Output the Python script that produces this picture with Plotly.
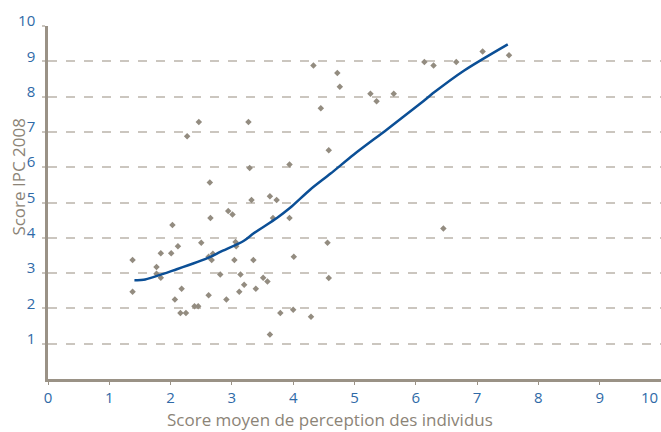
import plotly.graph_objects as go

# Scatter data (Score moyen de perception, Score IPC 2008)
pts_x = [1.38, 1.38, 1.77, 1.77, 1.84, 1.84, 2.01, 2.03, 2.12, 2.07, 2.18, 2.16, 2.25, 2.27, 2.46,
         2.39, 2.45, 2.50, 2.64, 2.65, 2.62, 2.62, 2.69, 2.67, 2.81, 2.91, 2.94, 3.01, 3.06, 3.07,
         3.04, 3.14, 3.12, 3.20, 3.27, 3.29, 3.32, 3.35, 3.39, 3.51, 3.58, 3.62, 3.73, 3.67, 3.62,
         3.79, 3.94, 3.94, 4.00, 4.01, 4.29, 4.45, 4.58, 4.56, 4.58, 4.33, 4.72, 4.76, 5.26, 5.36,
         5.64, 6.14, 6.29, 6.66, 7.09, 7.52, 6.45]
pts_y = [3.37, 2.47, 3.17, 2.98, 2.87, 3.56, 3.56, 4.36, 3.76, 2.25, 2.56, 1.87, 1.87, 6.88, 7.28,
         2.06, 2.06, 3.86, 5.57, 4.56, 2.37, 3.46, 3.55, 3.37, 2.96, 2.25, 4.76, 4.66, 3.88, 3.76,
         3.37, 2.96, 2.47, 2.67, 7.28, 5.98, 5.07, 3.37, 2.56, 2.87, 2.76, 5.18, 5.07, 4.56, 1.26,
         1.87, 6.08, 4.56, 1.96, 3.46, 1.76, 7.67, 6.48, 3.86, 2.86, 8.88, 8.67, 8.28, 8.08, 7.87,
         8.08, 8.98, 8.88, 8.98, 9.28, 9.17, 4.26]

# Smoothed (loess-like) curve
fit_x = [1.41, 1.56, 2.10, 2.65, 2.81, 3.19, 3.35, 3.74, 3.95, 4.28, 4.61, 4.99, 5.53, 6.08, 6.30, 6.79, 7.50]
fit_y = [2.80, 2.81, 3.11, 3.46, 3.60, 3.91, 4.12, 4.57, 4.85, 5.37, 5.82, 6.36, 7.07, 7.81, 8.12, 8.74, 9.48]

x_ticks = list(range(0, 10))
y_ticks = list(range(1, 11))

X_TITLE = "Score moyen de perception des individus"
Y_TITLE = "Score IPC 2008"

BLUE_TXT = "#2f6aa7"
GRAY_TXT = "#8c8477"
AXIS = "#9a9286"
GRID = "#cbc6bf"
FONT = "Open Sans"

fig = go.Figure()
fig.add_trace(go.Scatter(x=pts_x, y=pts_y, mode="markers",
                         marker=dict(symbol="diamond", size=5, color="#938c80"),
                         hoverinfo="skip", showlegend=False))
fig.add_trace(go.Scatter(x=fit_x, y=fit_y, mode="lines",
                         line=dict(color="#0b4f96", width=2.5, shape="spline", smoothing=0.8),
                         hoverinfo="skip", showlegend=False))

# the "10" x label sits at the right edge, drawn as an annotation so it is not cut off
fig.add_annotation(x=10, y=0, xref="x", yref="y", text="10", showarrow=False,
                   xanchor="right", yanchor="top", yshift=-6, xshift=-1,
                   font=dict(family=FONT, size=15, color=BLUE_TXT))

# axis titles
fig.add_annotation(x=0.46, y=-0.115, xref="paper", yref="paper", text=X_TITLE,
                   showarrow=False, xanchor="center", yanchor="middle",
                   font=dict(family=FONT, size=17, color=GRAY_TXT))
fig.add_annotation(x=-0.0475, y=0.573, xref="paper", yref="paper", text=Y_TITLE,
                   showarrow=False, xanchor="center", yanchor="middle", textangle=-90,
                   font=dict(family=FONT, size=17, color=GRAY_TXT))

fig.update_layout(
    width=661, height=432,
    margin=dict(l=48, r=0, t=26, b=53),
    paper_bgcolor="white", plot_bgcolor="white",
    font=dict(family=FONT),
    xaxis=dict(range=[0, 10], tickvals=x_ticks, ticktext=[str(v) for v in x_ticks],
               automargin=False,
               showgrid=False, zeroline=False, showline=True, linecolor=AXIS, linewidth=2.5,
               ticks="outside", ticklen=3, tickcolor=AXIS, tickwidth=1,
               tickfont=dict(family=FONT, size=15, color=BLUE_TXT)),
    yaxis=dict(range=[0, 10], tickvals=y_ticks, ticktext=[str(v) for v in y_ticks],
               automargin=False,
               showgrid=True, gridcolor=GRID, griddash="dash", gridwidth=1.5,
               zeroline=False, showline=True, linecolor=AXIS, linewidth=2.5,
               ticks="outside", ticklen=3, tickcolor=GRID, tickwidth=1.5,
               ticklabelshift=-5, ticklabelstandoff=4,
               tickfont=dict(family=FONT, size=15, color=BLUE_TXT)),
)

fig.write_html("out.html", post_script="document.body.style.margin='0';",
               config={"displayModeBar": False})
